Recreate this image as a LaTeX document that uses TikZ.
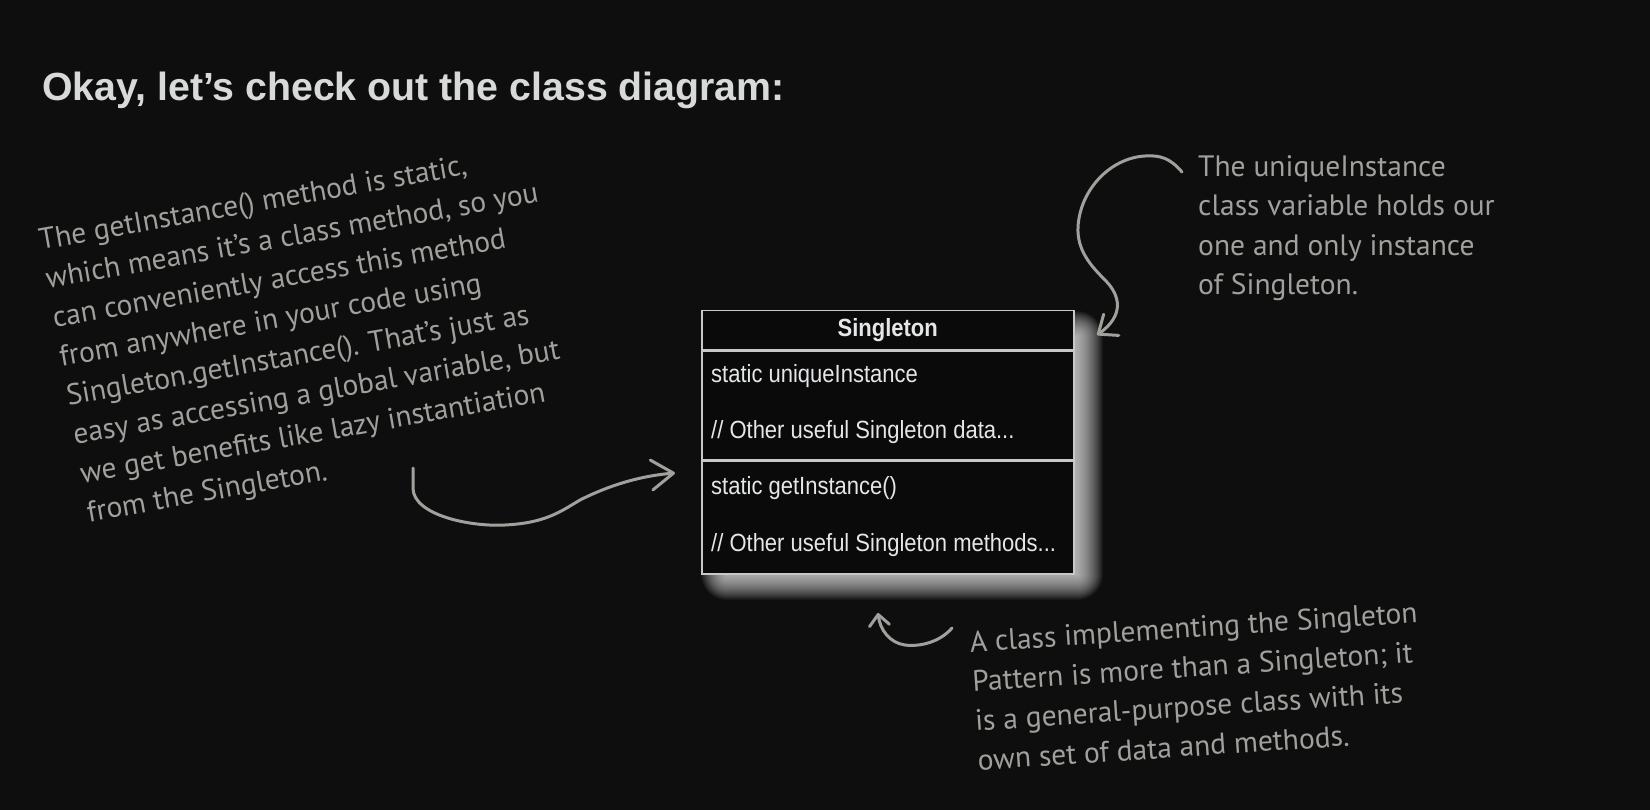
\documentclass[tikz,border=0pt]{standalone}
\usepackage{fontspec}
\usepackage{graphicx}
\setmainfont{Liberation Sans}
\newfontfamily\handfont{PT Sans}
\usetikzlibrary{arrows.meta}
\definecolor{bg}{RGB}{14,14,14}
\definecolor{boxfill}{RGB}{10,10,10}
\definecolor{boxline}{RGB}{200,200,200}
\definecolor{boxtext}{RGB}{228,230,232}
\definecolor{titletext}{RGB}{216,218,218}
\definecolor{hand}{RGB}{160,160,156}
\newcommand{\tallbox}[1]{\scalebox{1}[1.13]{#1}}
\begin{document}
\begin{tikzpicture}[x=1pt,y=-1pt,
  note/.style={font=\handfont\fontsize{29.5}{39.5}\selectfont, text=hand, align=left, inner sep=0pt},
  hand arrow/.style={draw=hand, line width=3pt, line cap=round, line join=round},
  member/.style={font=\fontsize{22}{26}\selectfont, text=boxtext, anchor=west, inner sep=0pt},
  compart/.style={draw=boxline, line width=1.5pt, fill=boxfill, minimum width=372pt, inner sep=0pt, anchor=north west}
]
\fill[bg] (0,0) rectangle (1650,810);
\useasboundingbox (0,0) rectangle (1650,810);

% title
\node[anchor=base west, font=\bfseries\fontsize{39.3}{45}\selectfont, text=titletext, inner sep=0pt] (heading) at (42,101) {Okay, let’s check out the class diagram:};

% soft glow behind class box (offset towards bottom right)
\foreach \k in {0,...,26}
  \fill[white, opacity=0.045, rounded corners=\k pt] ({727-\k},{337-\k}) rectangle ({1077+\k},{574+\k});

% class box
\node[compart, minimum height=39pt] (hdr) at (701,310) {};
\node[compart, minimum height=108pt] (attrs) at (hdr.south west) {};
\node[compart, minimum height=113pt] (meths) at (attrs.south west) {};
\node[font=\bfseries\fontsize{22}{26}\selectfont, text=boxtext, inner sep=0pt] (clsname) at (hdr.center) {\tallbox{Singleton}};
\node[member] (m1) at (711,376) {\tallbox{static uniqueInstance}};
\node[member] (m2) at (711,432) {\tallbox{// Other useful Singleton data...}};
\node[member] (m3) at (711,488) {\tallbox{static getInstance()}};
\node[member] (m4) at (711,545) {\tallbox{// Other useful Singleton methods...}};

% annotations
\node[note, rotate=10, anchor=north west] (noteL) at (37,229) {The getInstance() method is static,\\which means it’s a class method, so you\\can conveniently access this method\\from anywhere in your code using\\Singleton.getInstance(). That’s just as\\easy as accessing a global variable, but\\we get benefits like lazy instantiation\\from the Singleton.};
\node[note, anchor=north west] (noteR) at (1198,155) {The uniqueInstance\\class variable holds our\\one and only instance\\of Singleton.};
\node[note, rotate=3.8, anchor=north west] (noteB) at (969,631) {A class implementing the Singleton\\Pattern is more than a Singleton; it\\is a general-purpose class with its\\own set of data and methods.};

% arrows
\coordinate (a1s) at (413,468);
\coordinate (a1e) at (675,473);
\draw[hand arrow, -{Straight Barb[round, length=22pt, width=30pt]}] (a1s) -- (413,488) .. controls (413,515) and (470,527) .. (505,525) .. controls (545,523) and (560,512) .. (580,500) .. controls (610,485) and (640,476) .. (a1e);
\coordinate (a2s) at (1182,172);
\coordinate (a2e) at (1097,335);
\draw[hand arrow, -{Straight Barb[round, length=16pt, width=26pt]}] (a2s) .. controls (1170,158) and (1160,155) .. (1145,156) .. controls (1110,158) and (1080,190) .. (1078,227) .. controls (1077,250) and (1090,265) .. (1105,280) .. controls (1120,295) and (1125,315) .. (a2e);
\coordinate (a3s) at (952,628);
\coordinate (a3e) at (878,613);
\draw[hand arrow, -{Straight Barb[round, length=11pt, width=20pt]}] (a3s) .. controls (940,642) and (920,647) .. (905,645) .. controls (890,643) and (880,630) .. (a3e);
\end{tikzpicture}
\end{document}
